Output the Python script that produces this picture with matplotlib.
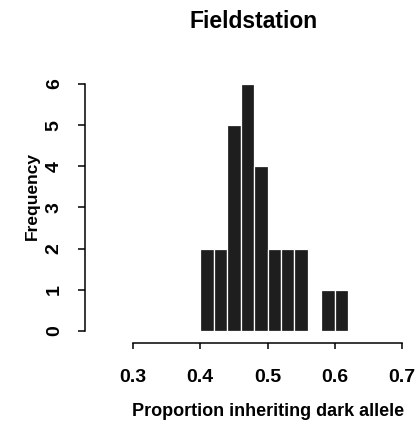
import numpy as np
import matplotlib
matplotlib.use('Agg')
import matplotlib.pyplot as plt

plt.rcParams['font.family'] = ['Liberation Sans', 'DejaVu Sans']
plt.rcParams['font.weight'] = 'bold'

# histogram bins (left edges) and counts
bin_left = [0.40, 0.42, 0.44, 0.46, 0.48, 0.50, 0.52, 0.54, 0.56, 0.58, 0.60]
counts = [2, 2, 5, 6, 4, 2, 2, 2, 0, 1, 1]
bin_width = 0.02

x_ticks = [0.3, 0.4, 0.5, 0.6, 0.7]
x_ticklabels = ['0.3', '0.4', '0.5', '0.6', '0.7']
y_ticks = [0, 1, 2, 3, 4, 5, 6]

W, H = 417, 425
fig = plt.figure(figsize=(W / 100, H / 100), dpi=100)

# axes placed in pixel terms: left spine at x=85, bottom spine at y=343
ax = fig.add_axes([85 / W, (H - 343) / H, (416 - 85) / W, (343 - 76) / H])
ax.set_xlim(0.2286, 0.7208)
ax.set_ylim(-0.2915, 6.194)

ax.bar(bin_left, counts, width=bin_width, align='edge',
       color='#1e1e1e', edgecolor='white', linewidth=0.9)

for s in ['top', 'right']:
    ax.spines[s].set_visible(False)
ax.spines['left'].set_bounds(0, 6)
ax.spines['bottom'].set_bounds(0.3, 0.7)
ax.spines['left'].set_linewidth(1.1)
ax.spines['bottom'].set_linewidth(1.1)

ax.set_xticks(x_ticks)
ax.set_xticklabels(x_ticklabels, fontsize=14, fontweight='bold')
ax.set_yticks(y_ticks)
ax.set_yticklabels([str(v) for v in y_ticks], fontsize=14, fontweight='bold',
                   rotation=90, va='center')
ax.tick_params(axis='x', direction='out', length=4, width=1.1, pad=15)
ax.tick_params(axis='y', direction='out', length=5, width=1.1, pad=11)

fig.text(254 / W, 1 - 22 / H, 'Fieldstation', ha='center', va='center',
         fontsize=16.5, fontweight='bold')
fig.text(268 / W, 1 - 412 / H, 'Proportion inheriting dark allele',
         ha='center', va='center', fontsize=13, fontweight='bold')
fig.text(32 / W, 1 - 196 / H, 'Frequency', ha='center', va='center',
         rotation=90, fontsize=12.5, fontweight='bold')

plt.savefig('out.png', dpi=100)
